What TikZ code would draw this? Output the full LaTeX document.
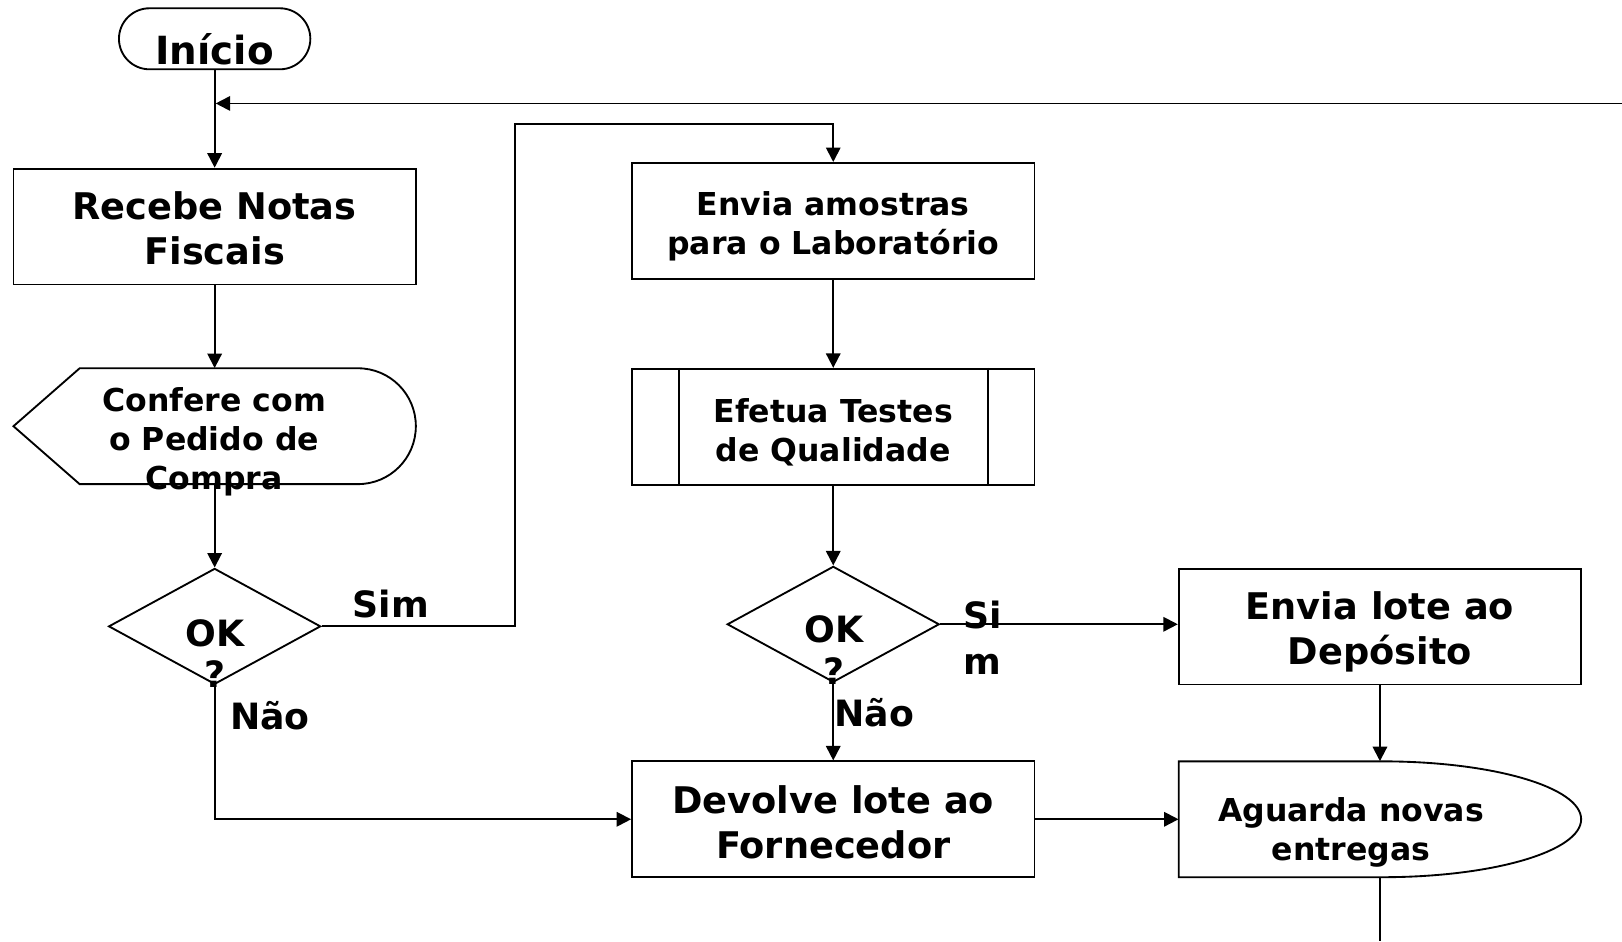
\documentclass[tikz,border=0pt]{standalone}
\usepackage{fontspec}
\setmainfont{DejaVu Sans}
\usetikzlibrary{arrows.meta,shapes.geometric}
\tikzset{
  ln/.style={line width=1.8pt, draw=black},
  arr/.style={ln, -{Triangle[width=14pt,length=14pt]}},
  frm/.style={rectangle, minimum width=389pt, minimum height=112pt, inner sep=0pt},
  box/.style={frm, ln},
  dec/.style={diamond, ln, minimum width=205pt, minimum height=112pt, inner sep=0pt},
  txt/.style={inner sep=0pt, align=center},
  big/.style={txt, font=\fontsize{35.5}{43}\selectfont\bfseries},
  med/.style={txt, font=\fontsize{30.5}{37.5}\selectfont\bfseries},
  lbl/.style={txt, font=\fontsize{35}{44}\selectfont\bfseries},
}
\begin{document}
\begin{tikzpicture}[x=1pt,y=-1pt]
\useasboundingbox (0,0) rectangle (1568,909.7);
% shapes
\node[ln, rectangle, rounded corners=29.5pt, minimum width=185pt, minimum height=59pt, inner sep=0pt] (inicio) at (207.5,37.5) {};
\node[txt, font=\fontsize{37.5}{44}\selectfont\bfseries] (tinicio) at (207.5,48) {Início};
\node[box] (recebe) at (207.5,219) {};
\node[big] (trecebe) at (207.5,220.5) {Recebe Notas\\Fiscais};
\node[frm] (confere) at (207.5,412) {};
\draw[ln] (77,356) -- (346,356) .. controls (377,356) and (402,381) .. (402,412)
  .. controls (402,443) and (377,468) .. (346,468) -- (77,468) -- (13,412) -- cycle;
\node[med] (tconfere) at (207,427) {Confere com\\o Pedido de\\Compra};
\node[dec] (ok1) at (207.5,605.5) {};
\node[lbl, font=\fontsize{35}{40}\selectfont\bfseries] (tok1) at (207.5,631.5) {OK\\?};
\node[box] (envia) at (805.5,213.5) {};
\node[med] (tenvia) at (805.5,219) {Envia amostras\\para o Laboratório};
\node[box] (efetua) at (805.5,412.5) {};
\draw[ln] ([xshift=46pt]efetua.north west) -- ([xshift=46pt]efetua.south west);
\draw[ln] ([xshift=-46pt]efetua.north east) -- ([xshift=-46pt]efetua.south east);
\node[med] (tefetua) at (805.5,418) {Efetua Testes\\de Qualidade};
\node[dec] (ok2) at (805.5,603.5) {};
\node[lbl, font=\fontsize{35}{40}\selectfont\bfseries] (tok2) at (806,628.5) {OK\\?};
\node[box] (lote) at (1334,605.7) {};
\node[big] (tlote) at (1334,611) {Envia lote ao\\Depósito};
\node[box] (devolve) at (805.5,792) {};
\node[big] (tdevolve) at (805.5,795) {Devolve lote ao\\Fornecedor};
\node[frm] (aguarda) at (1334,792) {};
\draw[ln] (1336,736) -- (1139.5,736) -- (1139.5,848) -- (1336,848)
  .. controls (1443,848) and (1528.5,823) .. (1528.5,792)
  .. controls (1528.5,761) and (1443,736) .. (1336,736) -- cycle;
\node[med] (taguarda) at (1306,805) {Aguarda novas\\entregas};
% labels
\node[lbl] (lsim1) at (378,583.5) {Sim};
\node[lbl] (lnao1) at (261,692) {Não};
\node[lbl] (lsim2) at (950,616.5) {Si\\m};
\node[lbl] (lnao2) at (845,689) {Não};
% coordinates
\coordinate (ret) at (1568,100);
\coordinate (sx) at (498,120);
\coordinate (fim) at (1334,909.7);
% connectors
\draw[arr] (inicio.south) -- (recebe.north);
\draw[arr] (ret) -- ([xshift=1pt]inicio.south |- ret);
\draw[arr] (recebe.south) -- (confere.north);
\draw[arr] (confere.south) -- (ok1.north);
\draw[arr] (ok1.east) -| (sx) -| (envia.north);
\draw[arr] (ok1.south) |- (devolve.west);
\draw[arr] (envia.south) -- (efetua.north);
\draw[arr] (efetua.south) -- (ok2.north);
\draw[arr] (ok2.east) -- (ok2.east -| lote.west);
\draw[arr] (ok2.south) -- (devolve.north);
\draw[arr] (lote.south) -- (aguarda.north);
\draw[arr] (devolve.east) -- (aguarda.west);
\draw[ln] (aguarda.south) -- (fim);
\end{tikzpicture}
\end{document}
